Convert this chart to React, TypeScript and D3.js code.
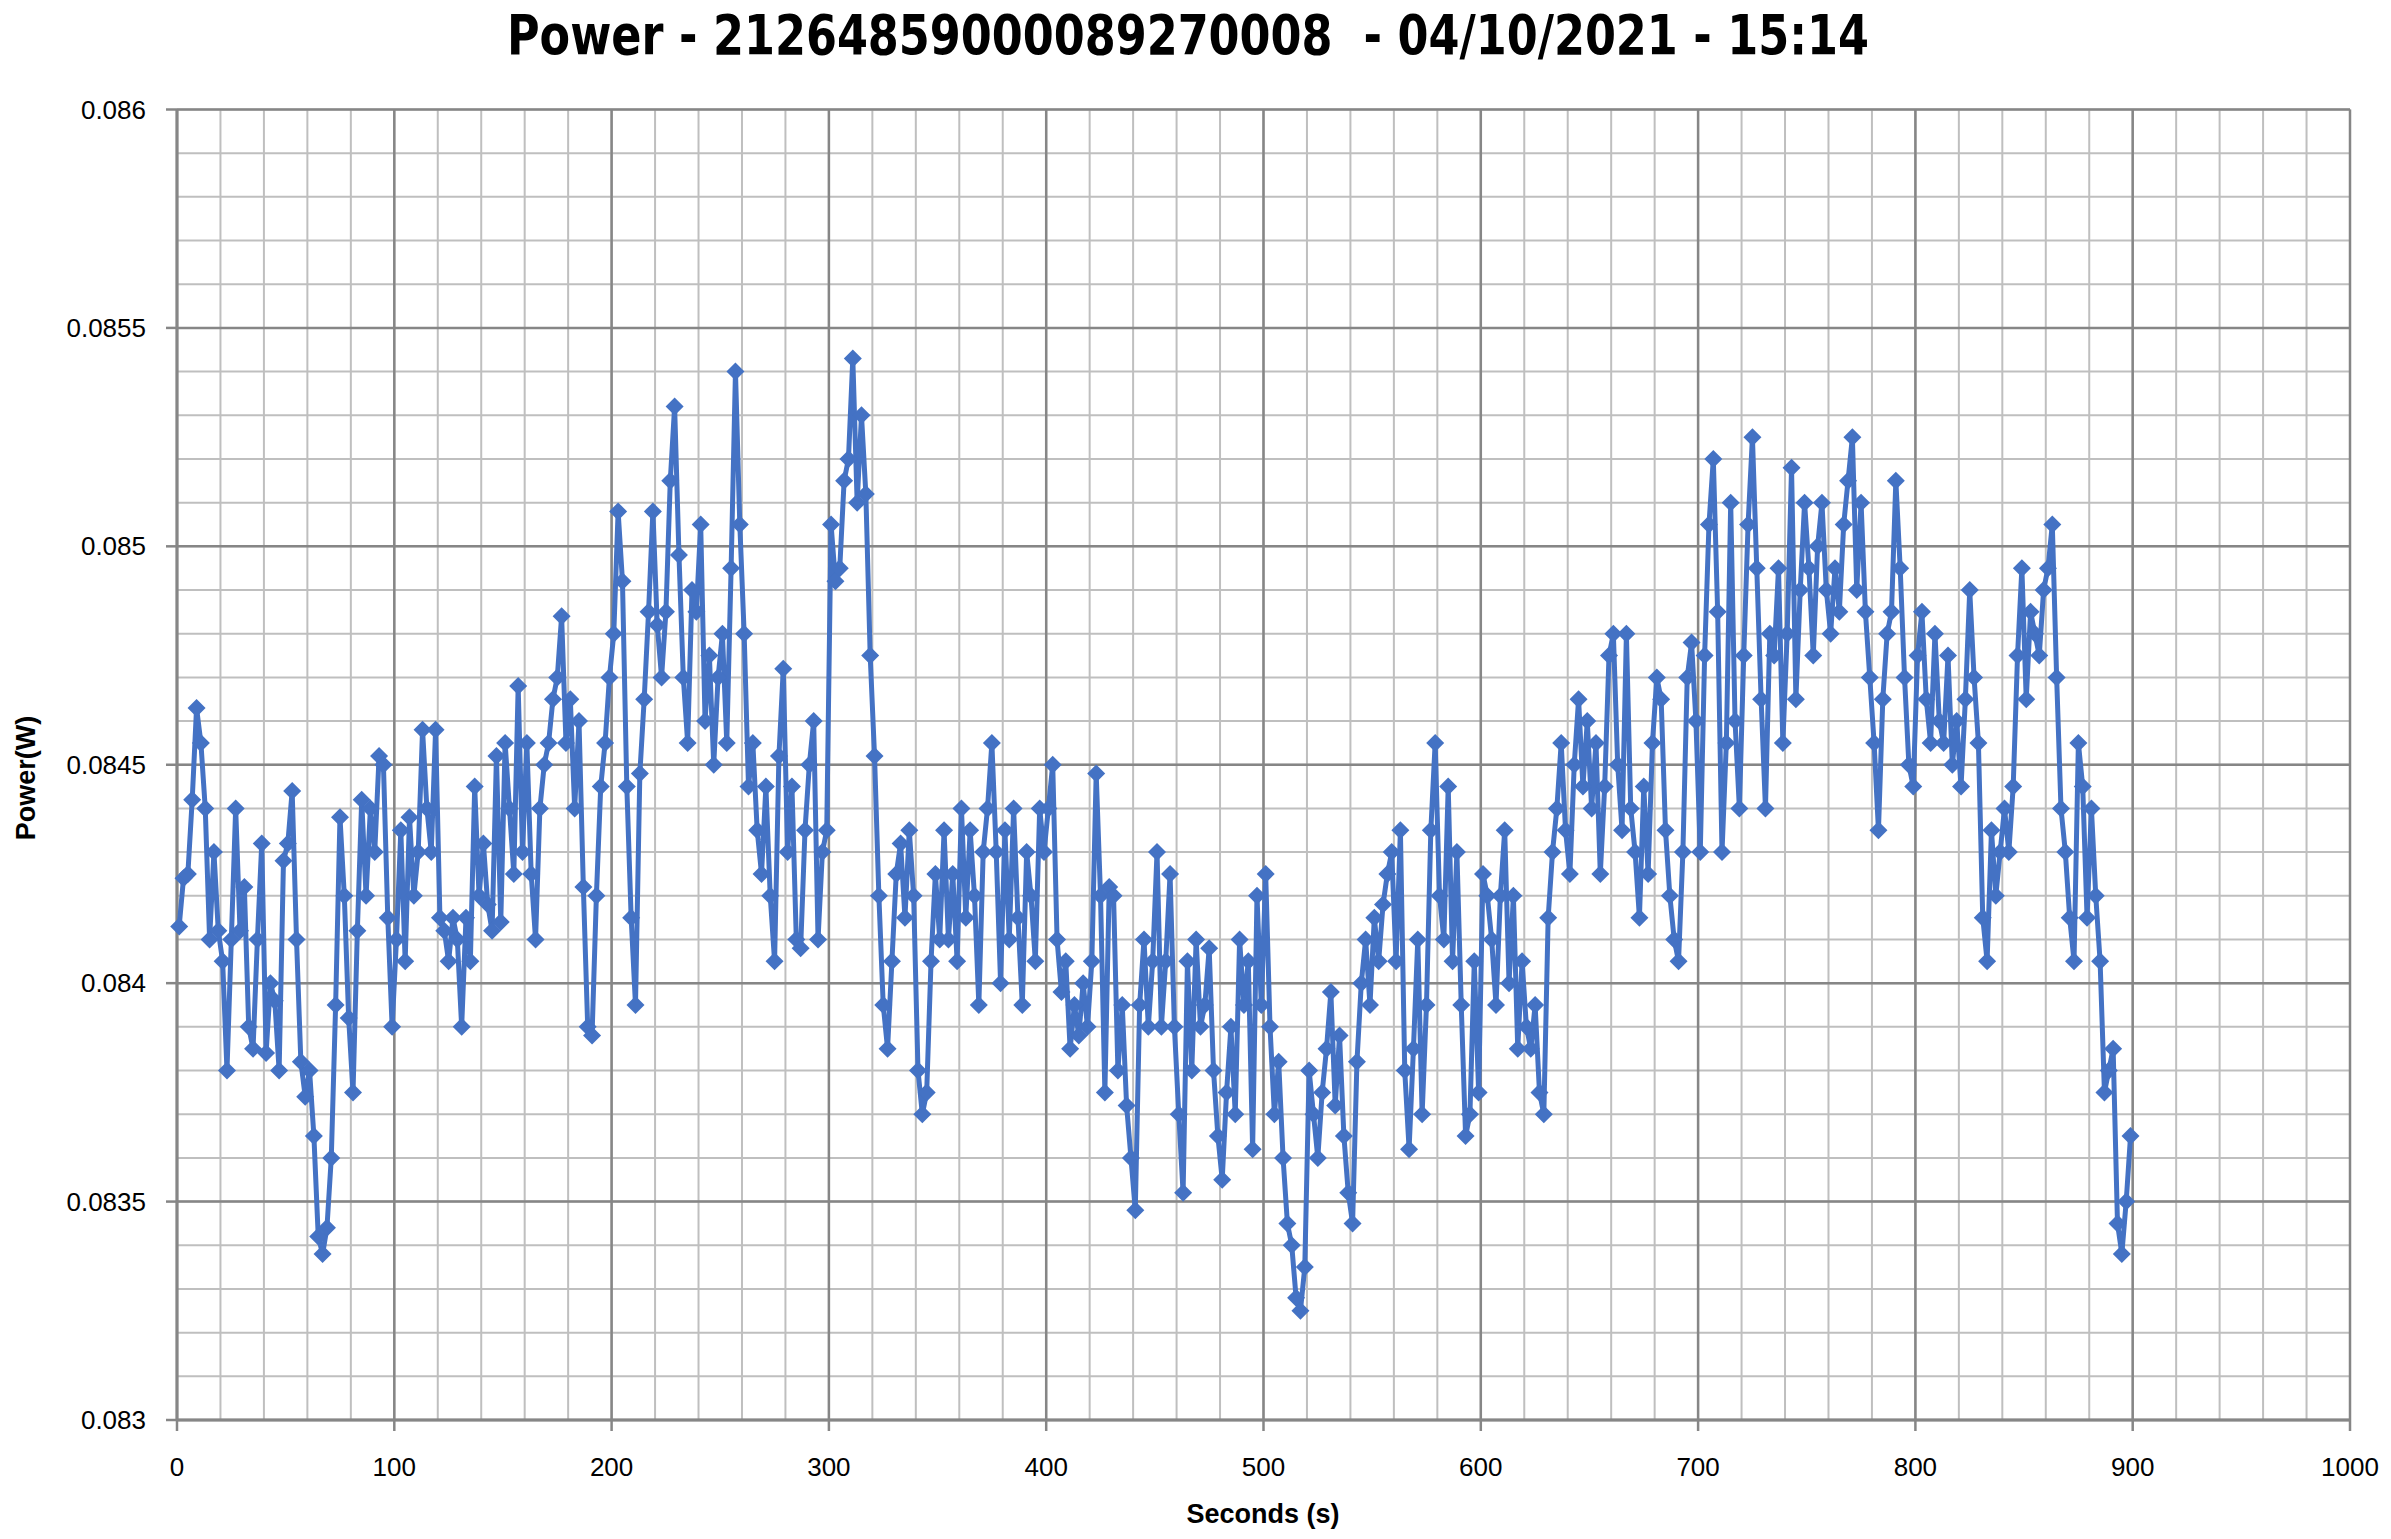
import React from 'react';
import * as d3 from 'd3';

const W = 2391;
const H = 1539;
const plotLeft = 177;
const plotRight = 2350;
const plotTop = 109.5;
const plotBottom = 1420;

const titleText = 'Power - 21264859000089270008  - 04/10/2021 - 15:14';
const xAxisTitle = 'Seconds (s)';
const yAxisTitle = 'Power(W)';

const xDomain = [0, 1000];
const yDomain = [0.083, 0.086];
const xMajorTicks = [0, 100, 200, 300, 400, 500, 600, 700, 800, 900, 1000];
const xTickLabels = ['0', '100', '200', '300', '400', '500', '600', '700', '800', '900', '1000'];
const yMajorTicks = [0.083, 0.0835, 0.084, 0.0845, 0.085, 0.0855, 0.086];
const yTickLabels = ['0.083', '0.0835', '0.084', '0.0845', '0.085', '0.0855', '0.086'];
const xMinorStep = 20;
const yMinorStep = 0.0001;

const firstSampleSecond = 1;
const sampleStepSeconds = 2;
// Power readings in milliwatts (one every 2 s)
const powerMilliWatts = [
  84.13, 84.24, 84.25, 84.42, 84.63, 84.55, 84.40, 84.10, 84.30, 84.12,
  84.05, 83.80, 84.10, 84.40, 84.12, 84.22, 83.90, 83.85, 84.10, 84.32,
  83.84, 84.00, 83.96, 83.80, 84.28, 84.32, 84.44, 84.10, 83.82, 83.74,
  83.80, 83.65, 83.42, 83.38, 83.44, 83.60, 83.95, 84.38, 84.20, 83.92,
  83.75, 84.12, 84.42, 84.20, 84.40, 84.30, 84.52, 84.50, 84.15, 83.90,
  84.10, 84.35, 84.05, 84.38, 84.20, 84.30, 84.58, 84.40, 84.30, 84.58,
  84.15, 84.12, 84.05, 84.15, 84.10, 83.90, 84.15, 84.05, 84.45, 84.20,
  84.32, 84.18, 84.12, 84.52, 84.14, 84.55, 84.40, 84.25, 84.68, 84.30,
  84.55, 84.25, 84.10, 84.40, 84.50, 84.55, 84.65, 84.70, 84.84, 84.55,
  84.65, 84.40, 84.60, 84.22, 83.90, 83.88, 84.20, 84.45, 84.55, 84.70,
  84.80, 85.08, 84.92, 84.45, 84.15, 83.95, 84.48, 84.65, 84.85, 85.08,
  84.82, 84.70, 84.85, 85.15, 85.32, 84.98, 84.70, 84.55, 84.90, 84.85,
  85.05, 84.60, 84.75, 84.50, 84.70, 84.80, 84.55, 84.95, 85.40, 85.05,
  84.80, 84.45, 84.55, 84.35, 84.25, 84.45, 84.20, 84.05, 84.52, 84.72,
  84.30, 84.45, 84.10, 84.08, 84.35, 84.50, 84.60, 84.10, 84.30, 84.35,
  85.05, 84.92, 84.95, 85.15, 85.20, 85.43, 85.10, 85.30, 85.12, 84.75,
  84.52, 84.20, 83.95, 83.85, 84.05, 84.25, 84.32, 84.15, 84.35, 84.20,
  83.80, 83.70, 83.75, 84.05, 84.25, 84.10, 84.35, 84.10, 84.25, 84.05,
  84.40, 84.15, 84.35, 84.20, 83.95, 84.30, 84.40, 84.55, 84.30, 84.00,
  84.35, 84.10, 84.40, 84.15, 83.95, 84.30, 84.20, 84.05, 84.40, 84.30,
  84.40, 84.50, 84.10, 83.98, 84.05, 83.85, 83.95, 83.88, 84.00, 83.90,
  84.05, 84.48, 84.20, 83.75, 84.22, 84.20, 83.80, 83.95, 83.72, 83.60,
  83.48, 83.95, 84.10, 83.90, 84.05, 84.30, 83.90, 84.05, 84.25, 83.90,
  83.70, 83.52, 84.05, 83.80, 84.10, 83.90, 83.95, 84.08, 83.80, 83.65,
  83.55, 83.75, 83.90, 83.70, 84.10, 83.95, 84.05, 83.62, 84.20, 83.95,
  84.25, 83.90, 83.70, 83.82, 83.60, 83.45, 83.40, 83.28, 83.25, 83.35,
  83.80, 83.70, 83.60, 83.75, 83.85, 83.98, 83.72, 83.88, 83.65, 83.52,
  83.45, 83.82, 84.00, 84.10, 83.95, 84.15, 84.05, 84.18, 84.25, 84.30,
  84.05, 84.35, 83.80, 83.62, 83.85, 84.10, 83.70, 83.95, 84.35, 84.55,
  84.20, 84.10, 84.45, 84.05, 84.30, 83.95, 83.65, 83.70, 84.05, 83.75,
  84.25, 84.20, 84.10, 83.95, 84.20, 84.35, 84.00, 84.20, 83.85, 84.05,
  83.90, 83.85, 83.95, 83.75, 83.70, 84.15, 84.30, 84.40, 84.55, 84.35,
  84.25, 84.50, 84.65, 84.45, 84.60, 84.40, 84.55, 84.25, 84.45, 84.75,
  84.80, 84.50, 84.35, 84.80, 84.40, 84.30, 84.15, 84.45, 84.25, 84.55,
  84.70, 84.65, 84.35, 84.20, 84.10, 84.05, 84.30, 84.70, 84.78, 84.60,
  84.30, 84.75, 85.05, 85.20, 84.85, 84.30, 84.55, 85.10, 84.60, 84.40,
  84.75, 85.05, 85.25, 84.95, 84.65, 84.40, 84.80, 84.75, 84.95, 84.55,
  84.80, 85.18, 84.65, 84.90, 85.10, 84.95, 84.75, 85.00, 85.10, 84.90,
  84.80, 84.95, 84.85, 85.05, 85.15, 85.25, 84.90, 85.10, 84.85, 84.70,
  84.55, 84.35, 84.65, 84.80, 84.85, 85.15, 84.95, 84.70, 84.50, 84.45,
  84.75, 84.85, 84.65, 84.55, 84.80, 84.60, 84.55, 84.75, 84.50, 84.60,
  84.45, 84.65, 84.90, 84.70, 84.55, 84.15, 84.05, 84.35, 84.20, 84.30,
  84.40, 84.30, 84.45, 84.75, 84.95, 84.65, 84.85, 84.80, 84.75, 84.90,
  84.95, 85.05, 84.70, 84.40, 84.30, 84.15, 84.05, 84.55, 84.45, 84.15,
  84.40, 84.20, 84.05, 83.75, 83.80, 83.85, 83.45, 83.38, 83.50, 83.65,
];

const lineColor = '#4472C4';
const majorGrid = '#868686';
const minorGrid = '#bfbfbf';

export default function App() {
  const x = d3.scaleLinear().domain(xDomain).range([plotLeft, plotRight]);
  const y = d3.scaleLinear().domain(yDomain).range([plotBottom, plotTop]);

  const points = powerMilliWatts.map((mw, i) => ({
    s: firstSampleSecond + i * sampleStepSeconds,
    p: mw / 1000,
  }));

  const line = d3
    .line<{ s: number; p: number }>()
    .x((d) => x(d.s))
    .y((d) => y(d.p));

  const xMinor = d3.range(xDomain[0], xDomain[1] + 0.001, xMinorStep);
  const nY = Math.round((yDomain[1] - yDomain[0]) / yMinorStep);
  const yMinor = d3.range(0, nY + 1).map((i) => yDomain[0] + i * yMinorStep);

  const r = 9;
  const diamond = `M0,${-r}L${r},0L0,${r}L${-r},0Z`;

  const labelFont = '"Liberation Sans", Arial, sans-serif';
  const titleFont = '"Liberation Sans Narrow", "DejaVu Sans Condensed", "Liberation Sans", sans-serif';

  return (
    <svg
      width={W}
      height={H}
      style={{ position: 'absolute', left: 0, top: 0, background: '#fff' }}
    >
      <rect x={0} y={0} width={W} height={H} fill="#fff" />
      {/* minor grid */}
      <g>
        {xMinor.map((v) => (
          <line key={'xm' + v} x1={x(v)} x2={x(v)} y1={plotTop} y2={plotBottom} stroke={minorGrid} strokeWidth={2} />
        ))}
        {yMinor.map((v, i) => (
          <line key={'ym' + i} x1={plotLeft} x2={plotRight} y1={y(v)} y2={y(v)} stroke={minorGrid} strokeWidth={2} />
        ))}
      </g>
      {/* major grid */}
      <g>
        {xMajorTicks.map((v) => (
          <line key={'xM' + v} x1={x(v)} x2={x(v)} y1={plotTop} y2={plotBottom} stroke={majorGrid} strokeWidth={2.5} />
        ))}
        {yMajorTicks.map((v) => (
          <line key={'yM' + v} x1={plotLeft} x2={plotRight} y1={y(v)} y2={y(v)} stroke={majorGrid} strokeWidth={2.5} />
        ))}
      </g>
      {/* axes */}
      <line x1={plotLeft} x2={plotLeft} y1={plotTop} y2={plotBottom} stroke={majorGrid} strokeWidth={3} />
      <line x1={plotLeft} x2={plotRight} y1={plotBottom} y2={plotBottom} stroke={majorGrid} strokeWidth={3} />
      {xMajorTicks.map((v) => (
        <line key={'xt' + v} x1={x(v)} x2={x(v)} y1={plotBottom} y2={plotBottom + 11} stroke={majorGrid} strokeWidth={2.5} />
      ))}
      {yMajorTicks.map((v) => (
        <line key={'yt' + v} x1={plotLeft - 11} x2={plotLeft} y1={y(v)} y2={y(v)} stroke={majorGrid} strokeWidth={2.5} />
      ))}
      {/* tick labels */}
      {xMajorTicks.map((v, i) => (
        <text key={'xl' + v} x={x(v)} y={1467} textAnchor="middle" dominantBaseline="central" fontFamily={labelFont} fontSize={26} fill="#000">
          {xTickLabels[i]}
        </text>
      ))}
      {yMajorTicks.map((v, i) => (
        <text key={'yl' + v} x={146} y={y(v)} textAnchor="end" dominantBaseline="central" fontFamily={labelFont} fontSize={26} fill="#000">
          {yTickLabels[i]}
        </text>
      ))}
      {/* data */}
      <path d={line(points) || ''} fill="none" stroke={lineColor} strokeWidth={5} strokeLinejoin="round" />
      <g fill={lineColor}>
        {points.map((d, i) => (
          <path key={'m' + i} d={diamond} transform={`translate(${x(d.s)},${y(d.p)})`} />
        ))}
      </g>
      {/* titles */}
      <text
        x={1188}
        y={54}
        textAnchor="middle"
        fontFamily={titleFont}
        fontWeight="bold"
        fontSize={56}
        textLength={1362}
        lengthAdjust="spacingAndGlyphs"
        style={{ whiteSpace: 'pre' }}
        fill="#000"
      >
        {titleText}
      </text>
      <text x={1263} y={1514} textAnchor="middle" dominantBaseline="central" fontFamily={labelFont} fontWeight="bold" fontSize={27} fill="#000">
        {xAxisTitle}
      </text>
      <text
        transform={`translate(26,778) rotate(-90)`}
        textAnchor="middle"
        dominantBaseline="central"
        fontFamily={labelFont}
        fontWeight="bold"
        fontSize={27}
        fill="#000"
      >
        {yAxisTitle}
      </text>
    </svg>
  );
}
